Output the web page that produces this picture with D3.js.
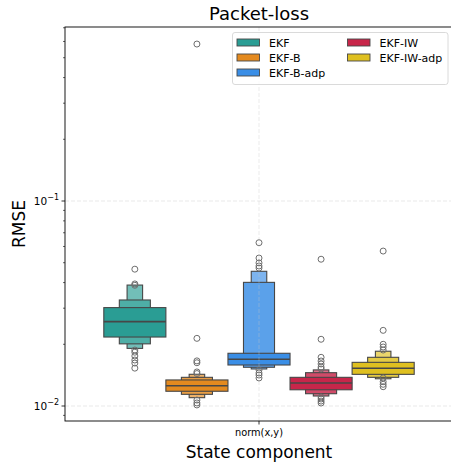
<!DOCTYPE html>
<html>
<head>
<meta charset="utf-8">
<script src="https://cdn.jsdelivr.net/npm/d3@7"></script>
<style>
  body { margin: 0; background: #fff; }
  text { font-family: "DejaVu Sans", sans-serif; fill: #000; }
</style>
</head>
<body>
<svg id="chart" width="451" height="463"></svg>
<script>
const title = "Packet-loss";
const category = "norm(x,y)";
const methods = ["EKF", "EKF-B", "EKF-B-adp", "EKF-IW", "EKF-IW-adp"];
const palette = ["#2a9d94", "#e48a1f", "#3a8ee6", "#c8264a", "#dfc020"];
const medians = [0.0258, 0.01256, 0.01691, 0.01294, 0.01528];
// letter-value boxes, inner (quartiles) to outer: [low, high]
const levelsEKF = [[0.0217, 0.0302], [0.0201, 0.0329], [0.0191, 0.0389]];
const levelsEKFB = [[0.0118, 0.0134], [0.0114, 0.0138], [0.01098, 0.01428]];
const levelsEKFBadp = [[0.01585, 0.01808], [0.01545, 0.0401], [0.01516, 0.0454]];
const levelsEKFIW = [[0.0120, 0.0138], [0.01148, 0.01454], [0.01119, 0.0150]];
const levelsEKFIWadp = [[0.01427, 0.01633], [0.0138, 0.01728], [0.01358, 0.0185]];
const outliersEKF = [0.0465, 0.0394, 0.0388, 0.01875, 0.0183, 0.01754, 0.01676, 0.0162, 0.0153];
const outliersEKFB = [0.583, 0.02138, 0.0166, 0.01626, 0.01466, 0.0144, 0.01069, 0.01035, 0.01012];
const outliersEKFBadp = [0.0626, 0.0527, 0.0499, 0.0482, 0.0471, 0.0150, 0.01449, 0.01416, 0.0137];
const outliersEKFIW = [0.0520, 0.02116, 0.01728, 0.01658, 0.01603, 0.01548, 0.01516, 0.01107, 0.01082, 0.01057, 0.01034];
const outliersEKFIWadp = [0.0570, 0.02339, 0.0200, 0.0194, 0.01875, 0.0137, 0.01314, 0.01276, 0.01242];
const yMajorTicks = [0.01, 0.1];
const yDomain = [0.00845, 0.706];

const levels = [levelsEKF, levelsEKFB, levelsEKFBadp, levelsEKFIW, levelsEKFIWadp];
const outliers = [outliersEKF, outliersEKFB, outliersEKFBadp, outliersEKFIW, outliersEKFIWadp];

const svg = d3.select("#chart");
const L = 65, R = 453, T = 27, B = 421;
const edge = "#474747";

const x = d3.scaleBand().domain([category]).range([L, R]).paddingInner(0).paddingOuter(0);
const xh = d3.scaleBand().domain(methods)
  .range([x(category) + x.bandwidth() * 0.1, x(category) + x.bandwidth() * 0.9]);
const y = d3.scaleLog().domain(yDomain).range([B, T]);

// grid
const grid = svg.append("g");
yMajorTicks.forEach(v => {
  grid.append("line").attr("x1", L).attr("x2", R).attr("y1", y(v)).attr("y2", y(v))
    .attr("stroke", "#b0b0b0").attr("stroke-opacity", 0.35).attr("stroke-dasharray", "4,2").attr("stroke-width", 0.8);
});

// boxes
methods.forEach((m, i) => {
  const g = svg.append("g");
  const cx = xh(m) + xh.bandwidth() / 2;
  const w0 = xh.bandwidth();
  const lv = levels[i];
  for (let k = lv.length - 1; k >= 0; k--) {
    const w = w0 * Math.pow(0.5, k);
    const col = d3.interpolateRgb(palette[i], "#ffffff")(0.17 * k);
    g.append("rect")
      .attr("x", cx - w / 2).attr("width", w)
      .attr("y", y(lv[k][1])).attr("height", y(lv[k][0]) - y(lv[k][1]))
      .attr("fill", col).attr("stroke", edge).attr("stroke-width", 1.1);
  }
  g.append("line").attr("x1", cx - w0 / 2).attr("x2", cx + w0 / 2)
    .attr("y1", y(medians[i])).attr("y2", y(medians[i]))
    .attr("stroke", edge).attr("stroke-width", 1.6);
  g.selectAll("circle").data(outliers[i]).enter().append("circle")
    .attr("cx", cx).attr("cy", d => y(d)).attr("r", 3)
    .attr("fill", "none").attr("stroke", "#6e6e6e").attr("stroke-width", 1);
});

// vertical grid on top (light)
svg.append("line").attr("x1", x(category) + x.bandwidth() / 2).attr("x2", x(category) + x.bandwidth() / 2)
  .attr("y1", T).attr("y2", B)
  .attr("stroke", "#c8c8c8").attr("stroke-opacity", 0.45).attr("stroke-dasharray", "4,2").attr("stroke-width", 0.8);

// spines
svg.append("rect").attr("x", L).attr("y", T).attr("width", R - L).attr("height", B - T)
  .attr("fill", "none").attr("stroke", "#000").attr("stroke-width", 0.9);

// y axis ticks
const minor = [];
for (let e = -3; e <= 0; e++) for (let d = 2; d <= 9; d++) {
  const v = d * Math.pow(10, e);
  if (v >= yDomain[0] && v <= yDomain[1]) minor.push(v);
}
minor.forEach(v => {
  svg.append("line").attr("x1", L - 2).attr("x2", L).attr("y1", y(v)).attr("y2", y(v))
    .attr("stroke", "#000").attr("stroke-width", 0.6);
});
yMajorTicks.forEach(v => {
  svg.append("line").attr("x1", L - 3.5).attr("x2", L).attr("y1", y(v)).attr("y2", y(v))
    .attr("stroke", "#000").attr("stroke-width", 0.8);
  const exp = Math.round(Math.log10(v));
  const t = svg.append("text").attr("x", L - 6).attr("y", y(v) + 4)
    .attr("text-anchor", "end").attr("font-size", 10.5);
  t.append("tspan").text("10");
  t.append("tspan").attr("dy", -5).attr("font-size", 8).text("\u2212" + Math.abs(exp));
});

// x axis tick
const xc = x(category) + x.bandwidth() / 2;
svg.append("line").attr("x1", xc).attr("x2", xc).attr("y1", B).attr("y2", B + 3.5)
  .attr("stroke", "#000").attr("stroke-width", 0.8);
svg.append("text").attr("x", xc).attr("y", B + 15).attr("text-anchor", "middle")
  .attr("font-size", 9.8).text(category);

// labels
svg.append("text").attr("x", xc).attr("y", 458).attr("text-anchor", "middle")
  .attr("font-size", 17).text("State component");
svg.append("text").attr("transform", `translate(25,${(T + B) / 2}) rotate(-90)`)
  .attr("text-anchor", "middle").attr("font-size", 17).text("RMSE");
svg.append("text").attr("x", xc).attr("y", 20).attr("text-anchor", "middle")
  .attr("font-size", 18).text(title);

// legend
const lg = svg.append("g");
lg.append("rect").attr("x", 232.5).attr("y", 32.5).attr("width", 215.5).attr("height", 52)
  .attr("rx", 2.5).attr("fill", "#fff").attr("fill-opacity", 0.8)
  .attr("stroke", "#d0d0d0").attr("stroke-width", 0.8);
methods.forEach((m, i) => {
  const col = i < 3 ? 0 : 1;
  const row = i < 3 ? i : i - 3;
  const px = col === 0 ? 237 : 347.5;
  const py = 42.5 + row * 15;
  lg.append("rect").attr("x", px).attr("y", py - 3.5).attr("width", 22.5).attr("height", 7)
    .attr("fill", palette[i]).attr("stroke", edge).attr("stroke-width", 0.9);
  lg.append("text").attr("x", px + 32).attr("y", py + 4).attr("font-size", 11).text(m);
});
</script>
</body>
</html>
